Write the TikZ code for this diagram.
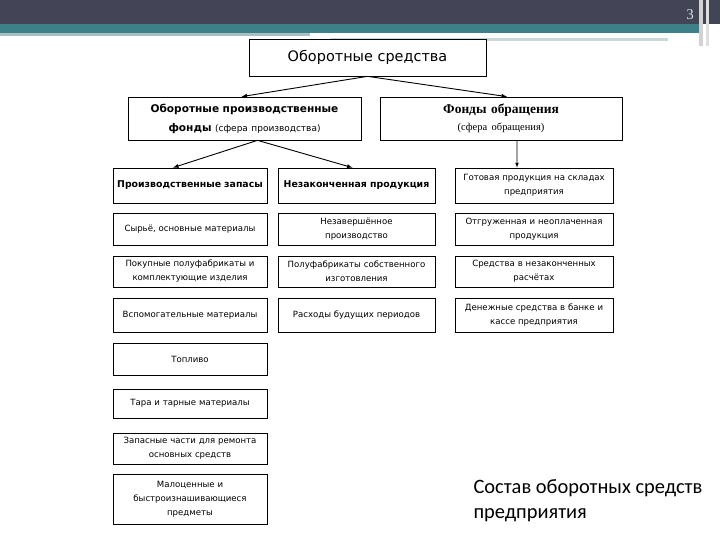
\documentclass[tikz,border=0pt]{standalone}
\usepackage{fontspec}
\setmainfont{DejaVu Sans}
\newfontfamily\serf{Liberation Serif}
\newfontfamily\capf{Carlito}
\usetikzlibrary{arrows.meta,positioning,calc}
\definecolor{hdark}{HTML}{414556}
\definecolor{hteal}{HTML}{3D8088}
\definecolor{hlight}{HTML}{A7BEC2}

\begin{document}
\begin{tikzpicture}[x=1bp,y=-1bp,>=latex,
   bx/.style={draw,fill=white,line width=0.7bp,align=center,inner sep=1bp,
     font=\fontsize{8.6}{14}\selectfont},
   cA/.style={bx,text width=152bp},
   cB/.style={bx,text width=155bp},
   cC/.style={bx,text width=156bp}]
  \useasboundingbox (0,0) rectangle (720,540);
  % header band
  \fill[hdark] (0,0) rectangle (720,24);
  \fill[hteal] (0,24) rectangle (700,33);
  \fill[hlight] (0,33) rectangle (310,36);
  \fill[hlight!60!white] (330,38) rectangle (668,41);
  \fill[gray!35] (699,0) rectangle (703,46);
  \fill[gray!25] (706,0) rectangle (709,46);
  \node[text=gray!25,font=\serf\fontsize{15}{15}\selectfont] (pg) at (690,15) {3};
  % levels 1-2
  \node[bx,minimum width=237bp,minimum height=37bp,font=\fontsize{14.5}{16}\selectfont]
    (os) at (367.5,57.5) {Оборотные средства};
  \node[bx,text width=231bp,minimum height=43bp,font=\fontsize{10.6}{19}\selectfont]
    (opf) at (244.5,118.5) {\textbf{Оборотные производственные}\\
      \textbf{фонды} {\fontsize{9}{19}\selectfont(сфера производства)}};
  \node[bx,text width=240bp,minimum height=43bp,font=\serf\fontsize{13.5}{17}\selectfont]
    (fo) at (501,118.5) {\textbf{Фонды обращения}\\
      {\fontsize{10.5}{17}\selectfont(сфера обращения)}};
  % columns
  \node[cA,minimum height=35bp,font=\fontsize{9.4}{14}\selectfont] (p1) at (190,185.5) {\textbf{Производственные запасы}};
  \node[cA,minimum height=32bp] (p2) at (190,229) {Сырьё, основные материалы};
  \node[cA,minimum height=31bp] (p3) at (190,271.5) {Покупные полуфабрикаты и\\комплектующие изделия};
  \node[cA,minimum height=34bp] (p4) at (190,315) {Вспомогательные материалы};
  \node[cA,minimum height=32bp] (p5) at (190,359) {Топливо};
  \node[cA,minimum height=29bp] (p6) at (190,403.5) {Тара и тарные материалы};
  \node[cA,minimum height=31bp] (p7) at (190,448.5) {Запасные части для ремонта\\основных средств};
  \node[cA,minimum height=50bp] (p8) at (190,499) {Малоценные и\\быстроизнашивающиеся\\предметы};
  \node[cB,minimum height=35bp,font=\fontsize{9.4}{14}\selectfont] (n1) at (356.5,185.5) {\textbf{Незаконченная продукция}};
  \node[cB,minimum height=32bp] (n2) at (356.5,229) {Незавершённое\\производство};
  \node[cB,minimum height=31bp] (n3) at (356.5,271.5) {Полуфабрикаты собственного\\изготовления};
  \node[cB,minimum height=34bp] (n4) at (356.5,315) {Расходы будущих периодов};
  \node[cC,minimum height=35bp] (g1) at (534,185.5) {Готовая продукция на складах\\предприятия};
  \node[cC,minimum height=32bp] (g2) at (534,229) {Отгруженная и неоплаченная\\продукция};
  \node[cC,minimum height=31bp] (g3) at (534,271.5) {Средства в незаконченных\\расчётах};
  \node[cC,minimum height=34bp] (g4) at (534,315) {Денежные средства в банке и\\кассе предприятия};
  % arrows
  \draw[->,line width=0.9bp] (os.south) -- ([xshift=-3bp]opf.north);
  \draw[->,line width=0.9bp] (os.south) -- ([xshift=6bp]fo.north);
  \draw[->,line width=0.9bp] ([xshift=13bp]opf.south) -- ([xshift=-17bp]p1.north);
  \draw[->,line width=0.9bp] ([xshift=13bp]opf.south) -- ([xshift=-4bp]n1.north);
  \draw[->,line width=0.7bp] ([xshift=16bp]fo.south) -- ([xshift=-17bp]g1.north);
  % caption
  \node[anchor=north west,align=left,font=\capf\fontsize{20.5}{25}\selectfont]
    (cap) at (470,476) {Состав оборотных средств\\предприятия};
\end{tikzpicture}
\end{document}
